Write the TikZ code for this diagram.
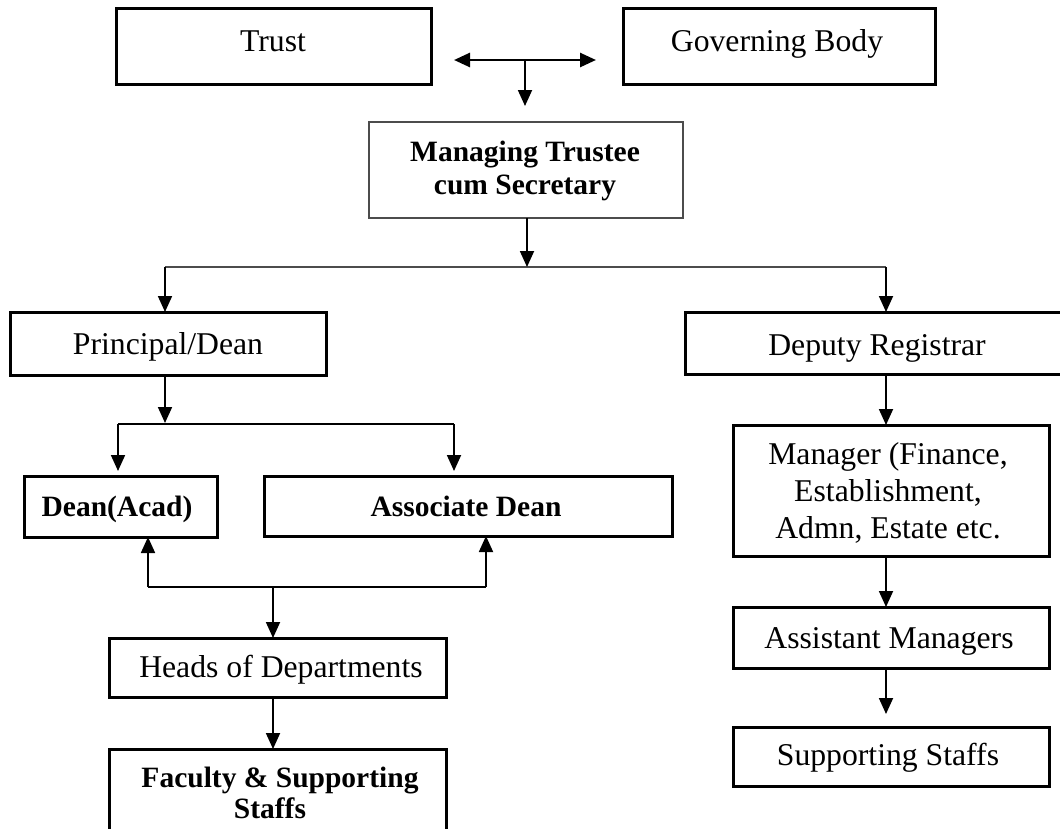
\documentclass[tikz,border=0pt]{standalone}
\usepackage{fontspec}
\setmainfont{Liberation Serif}
\usetikzlibrary{arrows.meta}
\begin{document}
\begin{tikzpicture}[x=1pt,y=-1pt,
  box/.style={draw=black, line width=3pt, inner sep=0pt, outer sep=0pt, anchor=north west},
  thinbox/.style={box, draw=black!70, line width=1.6pt},
  reg/.style={anchor=base, inner sep=0pt, font=\fontsize{31.7}{36}\selectfont},
  bld/.style={anchor=base, inner sep=0pt, font=\fontsize{29.5}{32}\selectfont\bfseries},
  arr/.style={line width=1.8pt, -{Triangle[length=16pt,width=14pt]}},
  darr/.style={line width=2.6pt, {Triangle[length=16pt,width=14pt]}-{Triangle[length=16pt,width=14pt]}},
  busthin/.style={line width=1.4pt, draw=black!70},
  bus/.style={line width=2.8pt}
]
\useasboundingbox (0,0) rectangle (1060,828);

% boxes
\node[box, minimum width=315pt, minimum height=76pt] (trust) at (116,8) {};
\node[box, minimum width=312pt, minimum height=76pt] (gov) at (623,8) {};
\node[thinbox, minimum width=314pt, minimum height=96pt] (mts) at (369,122) {};
\node[box, minimum width=316pt, minimum height=63pt] (prin) at (10,312) {};
\node[box, minimum width=377pt, minimum height=62pt] (dep) at (685,312) {};
\node[box, minimum width=193pt, minimum height=61pt] (acad) at (24,476) {};
\node[box, minimum width=408pt, minimum height=60pt] (assoc) at (264,476) {};
\node[box, minimum width=316pt, minimum height=131pt] (mgr) at (733,425) {};
\node[box, minimum width=337pt, minimum height=59pt] (heads) at (109,638) {};
\node[box, minimum width=316pt, minimum height=61pt] (asst) at (733,607) {};
\node[box, minimum width=337pt, minimum height=81pt] (fac) at (109,749) {};
\node[box, minimum width=316pt, minimum height=59pt] (supp) at (733,727) {};

% texts
\node[reg] (trust-t) at (273,51) {Trust};
\node[reg] (gov-t) at (777,51) {Governing Body};
\node[bld] (mts-t1) at (525,161) {Managing Trustee};
\node[bld] (mts-t2) at (525,194) {cum Secretary};
\node[reg] (prin-t) at (168,354) {Principal/Dean};
\node[reg] (dep-t) at (877,355) {Deputy Registrar};
\node[bld] (acad-t) at (117,516) {Dean(Acad)};
\node[bld] (assoc-t) at (466,516) {Associate Dean};
\node[reg] (mgr-t1) at (888,464) {Manager (Finance,};
\node[reg] (mgr-t2) at (888,501) {Establishment,};
\node[reg] (mgr-t3) at (888,538) {Admn, Estate etc.};
\node[reg] (heads-t) at (281,677) {Heads of Departments};
\node[reg] (asst-t) at (889,648) {Assistant Managers};
\node[bld] (fac-t1) at (280,787) {Faculty \& Supporting};
\node[bld] (fac-t2) at (270,818) {Staffs};
\node[reg] (supp-t) at (888,765) {Supporting Staffs};

% coordinates
\coordinate (tL) at (454,60);
\coordinate (tR) at (596,60);
\coordinate (tM) at (525,60);
\coordinate (tD) at (525,106);
\coordinate (mA) at (527,218);
\coordinate (busM) at (527,267);
\coordinate (busL) at (165,267);
\coordinate (busR) at (886,267);
\coordinate (pA) at (165,375);
\coordinate (pB) at (165,423);
\coordinate (b2L) at (118,424);
\coordinate (b2R) at (454,424);
\coordinate (b2Ld) at (118,471);
\coordinate (b2Rd) at (454,471);
\coordinate (b3L) at (148,587);
\coordinate (b3R) at (486,587);
\coordinate (b3M) at (273,587);
\coordinate (sE) at (886,714);

% connectors
\draw[darr] (tL) -- (tR);
\draw[arr] (tM) -- (tD);
\draw[busthin] (busL) -- (busR);
\draw[arr] (mA) -- (busM);
\draw[arr] (busL) -- (busL |- prin.north);
\draw[arr] (busR) -- (busR |- dep.north);
\draw[arr] (pA) -- (pB);
\draw[bus] (b2L) -- (b2R);
\draw[arr] (b2L) -- (b2Ld);
\draw[arr] (b2R) -- (b2Rd);
\draw[bus] (b3L) -- (b3R);
\draw[arr] (b3L) -- (b3L |- acad.south);
\draw[arr] (b3R) -- (b3R |- assoc.south);
\draw[arr] (b3M) -- (b3M |- heads.north);
\draw[arr] (b3M |- heads.south) -- (b3M |- fac.north);
\draw[arr] (busR |- dep.south) -- (busR |- mgr.north);
\draw[arr] (busR |- mgr.south) -- (busR |- asst.north);
\draw[arr] (busR |- asst.south) -- (sE);
\end{tikzpicture}
\end{document}
